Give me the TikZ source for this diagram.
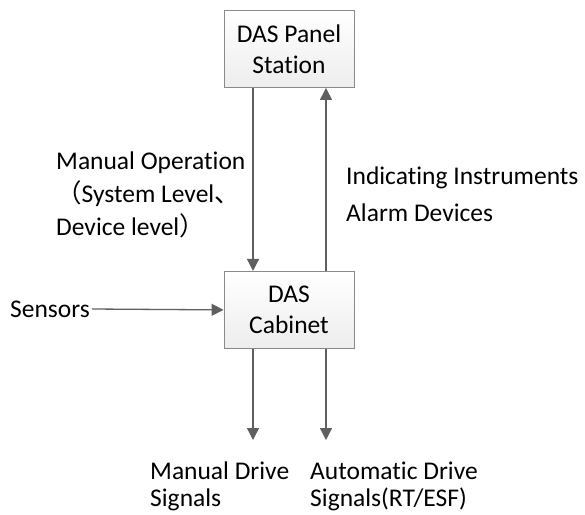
\documentclass[tikz,border=0pt]{standalone}
\usepackage{fontspec}
\setmainfont{Carlito}[Ligatures=NoCommon]
\newfontfamily\cjkfont{Noto Sans CJK SC}
\usetikzlibrary{arrows.meta}
\usetikzlibrary{positioning}
\definecolor{arrowgray}{HTML}{5F5F5F}
\definecolor{boxline}{HTML}{8A8A8A}
\tikzset{box/.style = {draw=boxline, line width=0.9pt, top color=white, bottom color=gray!14,
                       minimum width=130pt, minimum height=77pt, align=center, inner sep=0pt,
                       font=\fontsize{25.5}{31}\selectfont},
         flow/.style = {draw=arrowgray, line width=1.3pt, -{Triangle[length=12pt,width=12pt]}},
         lbl/.style = {align=left, inner sep=0pt, anchor=west}}

\begin{document}
\begin{tikzpicture}[x=1pt, y=-1pt]
    \useasboundingbox (0, 0) rectangle (585, 514);
    \node [box] (panel) at (289, 49) {DAS Panel\\Station};
    \node [box, below=183pt of panel] (cabinet) {DAS\\Cabinet};

    % panel <-> cabinet
    \draw [flow] ([xshift=-36pt]panel.south) -- ([xshift=-36pt]cabinet.north);
    \draw [flow] ([xshift=37pt]cabinet.north) -- ([xshift=37pt]panel.south);
    \node [lbl, font=\fontsize{25.5}{33}\selectfont] (manual) at (56, 195)
        {Manual Operation\\{\cjkfont （}System Level{\cjkfont 、}\\Device level{\cjkfont ）}};
    \node [lbl, font=\fontsize{25.5}{37}\selectfont] (indicate) at (346, 194)
        {Indicating Instruments\\Alarm Devices};

    % sensors
    \node [lbl, font=\fontsize{25.5}{27}\selectfont] (sensors) at (10, 309) {Sensors};
    \draw [flow] ([xshift=2pt]sensors.east) -- (cabinet.west);

    % drive signals
    \coordinate (mdrive) at (253, 440);
    \coordinate (adrive) at (326, 440);
    \draw [flow] (cabinet.south -| mdrive) -- (mdrive);
    \draw [flow] (cabinet.south -| adrive) -- (adrive);
    \node [lbl, font=\fontsize{25.5}{27}\selectfont] (mlabel) at (150, 486) {Manual Drive\\Signals};
    \node [lbl, font=\fontsize{25.5}{27}\selectfont] (alabel) at (310, 486) {Automatic Drive\\Signals(RT/ESF)};
\end{tikzpicture}
\end{document}
